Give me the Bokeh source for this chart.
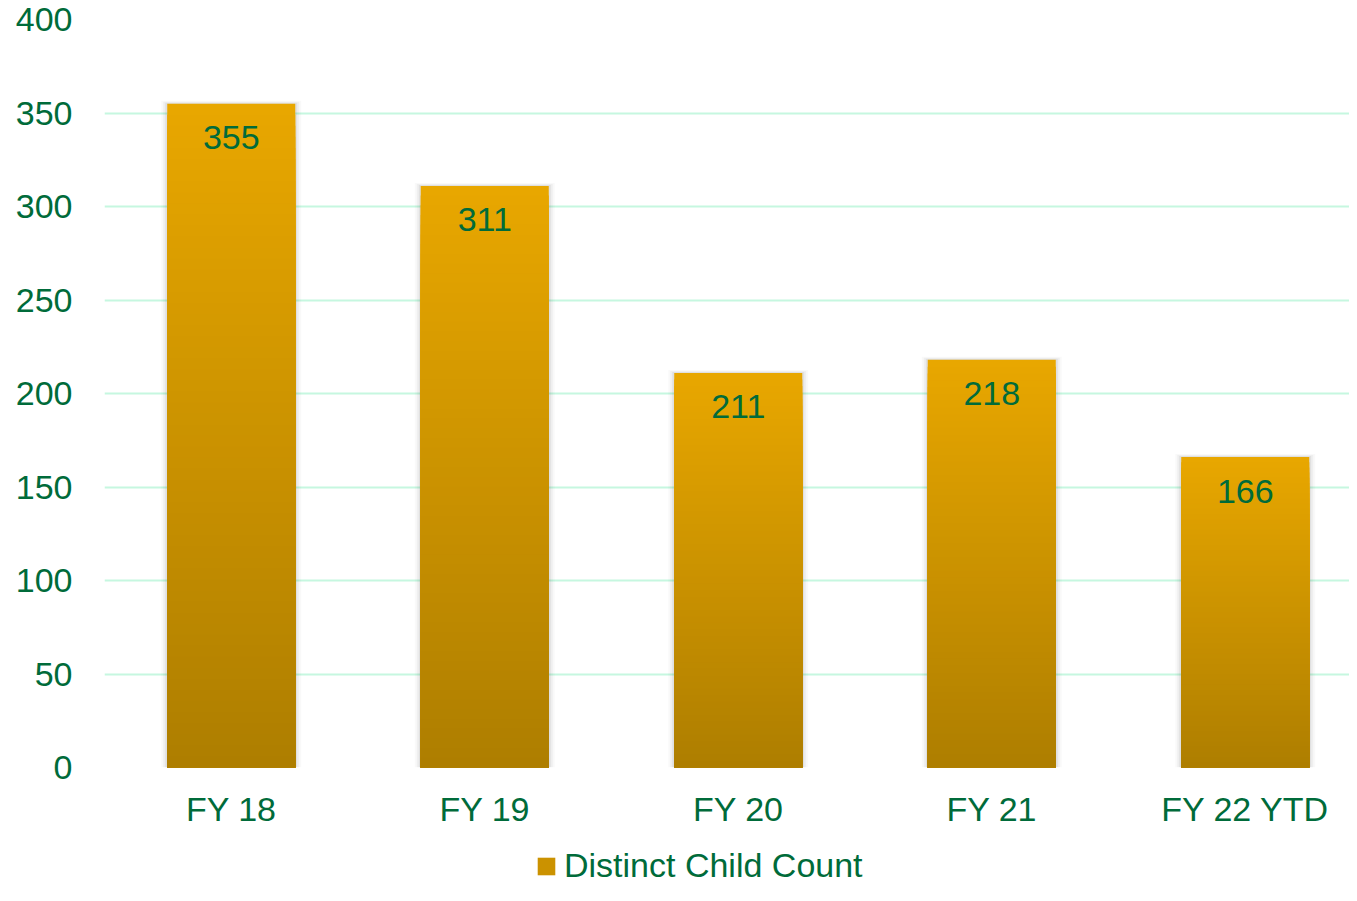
from bokeh.plotting import figure
from bokeh.layouts import column
from bokeh.models import Range1d, FixedTicker, Legend, LegendItem, ColumnDataSource
from bokeh.core.properties import value
from bokeh.embed import file_html
from bokeh.resources import INLINE

categories = ["FY 18", "FY 19", "FY 20", "FY 21", "FY 22 YTD"]
counts = [355, 311, 211, 218, 166]
y_ticks = [0, 50, 100, 150, 200, 250, 300, 350, 400]
series_name = "Distinct Child Count"

FONT = "Liberation Sans"
GREEN = "#006B3A"
GRID = "#C6F7E0"
TOP_RGB = (0xE8, 0xA7, 0x00)
BOT_RGB = (0xAE, 0x7E, 0x00)
NSEG = 60
BAR_W = 0.505

W = 1349
H_MAIN = 845
H_LEG = 40
TOP, BOTTOM = 19, 767  # frame top / bottom in canvas px
PX_PER_CAT = 253.5

p = figure(width=W, height=H_MAIN, output_backend="svg", toolbar_location=None,
           x_range=Range1d(0, (W - 104) / PX_PER_CAT), y_range=Range1d(0, 400),
           min_border_left=104, min_border_right=0, min_border_top=TOP,
           min_border_bottom=H_MAIN - BOTTOM)
p.outline_line_color = None
p.background_fill_color = "white"

px_x = 1 / PX_PER_CAT
px_y = 400 / (BOTTOM - TOP)

# soft shadow around the bars
xc = [i + 0.5 for i in range(len(counts))]
for grow, alpha in [(6, 0.025), (4, 0.04), (2, 0.06)]:
    p.vbar(x=xc, bottom=[-grow * px_y * 0.5] * len(counts),
           top=[v + grow * px_y * 0.5 for v in counts],
           width=BAR_W + 2 * grow * px_x, fill_color="#000000", fill_alpha=alpha,
           line_color=None)

# gradient bars built from the data values: tallest slice (top colour) first,
# shorter slices overlaid, so no seams
xs, tops, colors = [], [], []
for k in range(NSEG - 1, -1, -1):
    f1 = (k + 1) / NSEG
    t = (k + 0.5) / NSEG  # 0 at bottom, 1 at top
    c = "#%02X%02X%02X" % tuple(int(round(BOT_RGB[j] + (TOP_RGB[j] - BOT_RGB[j]) * t)) for j in range(3))
    for i, v in enumerate(counts):
        xs.append(i + 0.5)
        tops.append(v * f1)
        colors.append(c)
src = ColumnDataSource(dict(x=xs, bottom=[0] * len(xs), top=tops, color=colors))
p.vbar(x="x", bottom="bottom", top="top", width=BAR_W, fill_color="color",
       line_color=None, source=src)

# data labels
lab = ColumnDataSource(dict(x=xc, y=counts, t=[str(v) for v in counts]))
p.text(x="x", y="y", text="t", source=lab, text_font=value(FONT), text_font_size="34px",
       text_color=GREEN, text_align="center", text_baseline="middle", y_offset=34)

# axes
p.xaxis.ticker = FixedTicker(ticks=xc)
p.xaxis.major_label_overrides = {x: c for x, c in zip(xc, categories)}
p.yaxis.ticker = FixedTicker(ticks=y_ticks)
for ax in (p.xaxis, p.yaxis):
    ax.axis_line_color = None
    ax.major_tick_line_color = None
    ax.minor_tick_line_color = None
    ax.major_tick_out = 0
    ax.major_tick_in = 0
    ax.major_label_text_font = FONT
    ax.major_label_text_font_size = "34px"
    ax.major_label_text_color = GREEN
p.yaxis.major_label_standoff = 32
p.xaxis.major_label_standoff = 22

p.xgrid.grid_line_color = None
p.ygrid.grid_line_color = GRID
p.ygrid.grid_line_width = 2
p.ygrid.level = "underlay"

# legend strip
p2 = figure(width=W, height=H_LEG, output_backend="svg", toolbar_location=None,
            x_range=Range1d(0, 1), y_range=Range1d(0, 1), x_axis_type=None, y_axis_type=None,
            min_border_left=0, min_border_right=0, min_border_top=0, min_border_bottom=0)
p2.outline_line_color = None
p2.xgrid.visible = False
p2.ygrid.visible = False
mid = "#%02X%02X%02X" % tuple((TOP_RGB[j] + BOT_RGB[j]) // 2 for j in range(3))
swatch = p2.vbar(x=[5], top=[1], width=0.1, fill_color=mid, line_color=None)
legend = Legend(items=[LegendItem(label=series_name, renderers=[swatch])],
                orientation="horizontal", location=(431, 0),
                label_text_font=FONT, label_text_font_size="34px", label_text_color=GREEN,
                label_text_line_height=1.0,
                glyph_width=22, glyph_height=22, label_standoff=7,
                border_line_color=None, background_fill_alpha=0, margin=0, padding=0)
p2.add_layout(legend, "center")

open("out.html", "w").write(file_html(column(p, p2, spacing=0), INLINE))
